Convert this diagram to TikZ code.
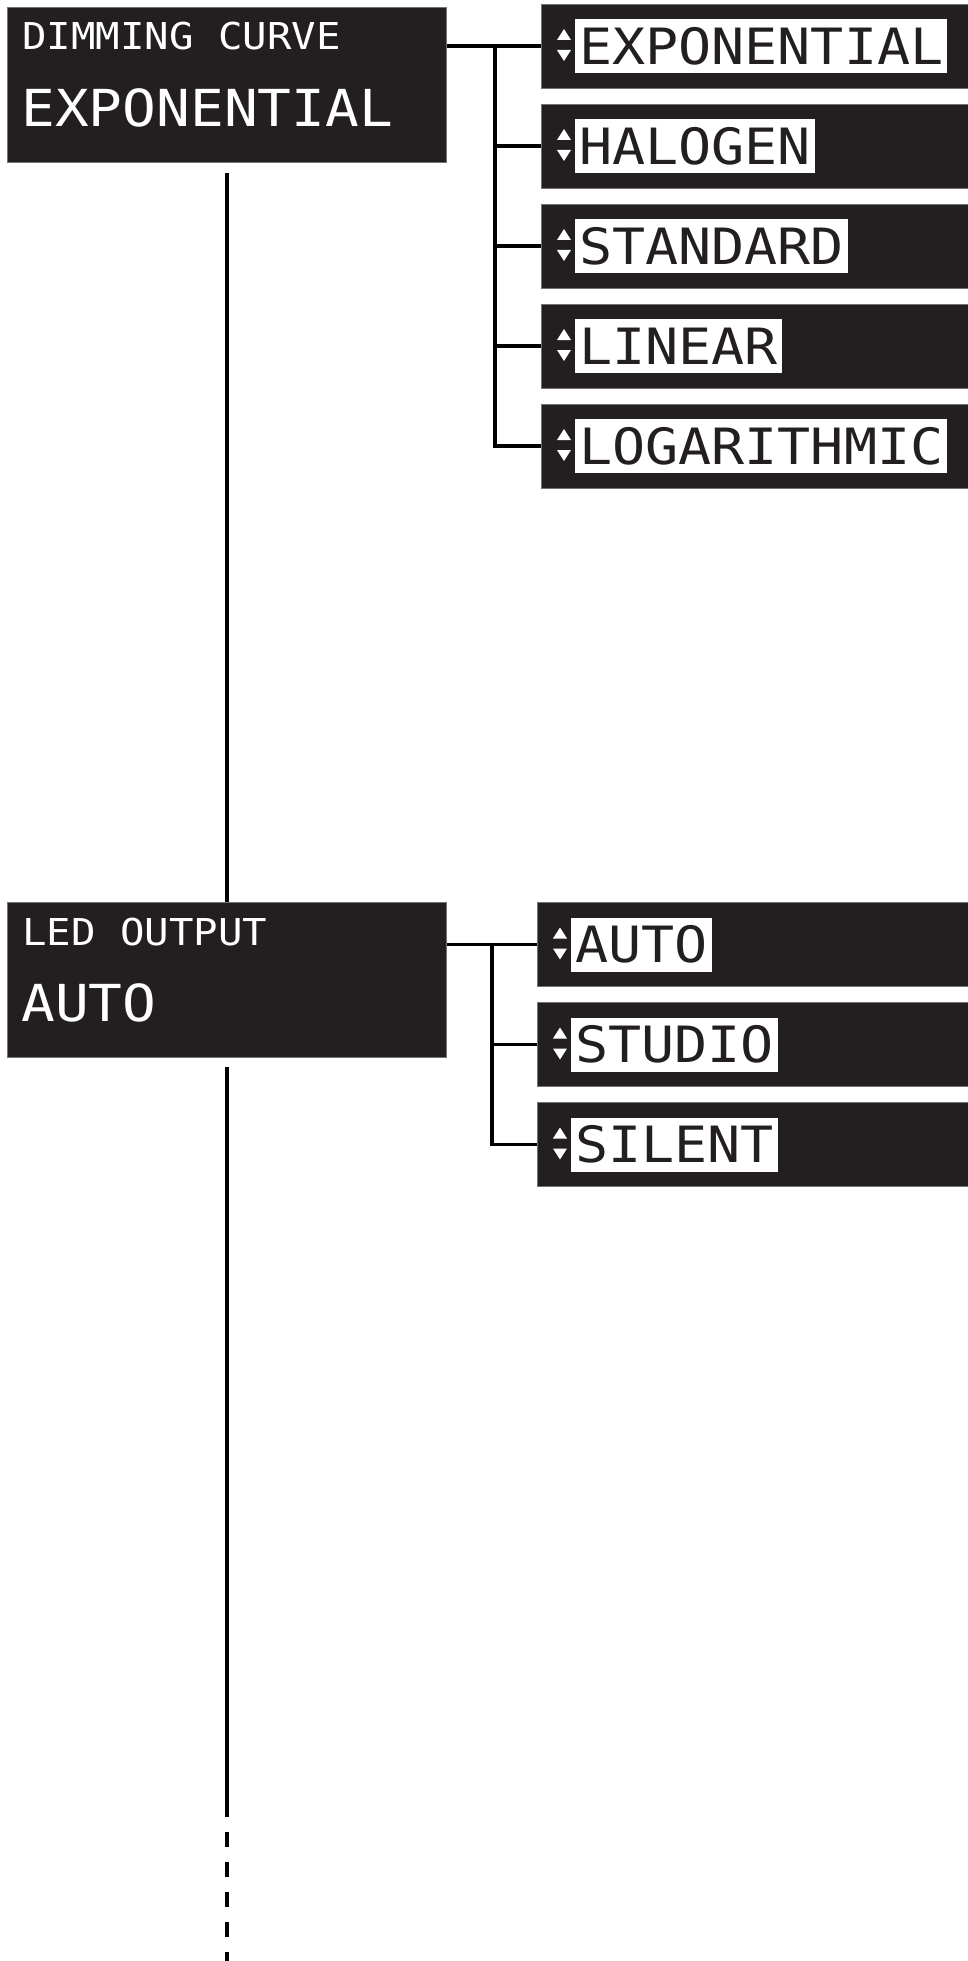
\documentclass[tikz,border=0pt]{standalone}
\usepackage{fontspec}
\newfontfamily\lcdfont[FakeStretch=1.1]{DejaVu Sans Mono}
\definecolor{panel}{HTML}{231F20}
\tikzset{
  link/.style={line width=3.2pt},
  menubox/.style={fill=panel, draw=black!55, line width=0.6pt, minimum width=439pt, minimum height=155pt, inner sep=0pt},
  optbox/.style={fill=panel, draw=black!55, line width=0.6pt, minimum width=432pt, minimum height=84pt, inner sep=0pt, anchor=west},
  optlabel/.style={fill=white, text=panel, inner xsep=4pt, inner ysep=0pt, minimum height=54pt, anchor=west, font=\lcdfont\fontsize{50pt}{50pt}\selectfont},
  menutitle/.style={text=white, inner sep=0pt, anchor=base west, font=\lcdfont\fontsize{37pt}{37pt}\selectfont},
  menuvalue/.style={text=white, inner sep=0pt, anchor=base west, font=\lcdfont\fontsize{51pt}{51pt}\selectfont}
}
\newcommand\updown[1]{%
  \fill[white] ([xshift=16pt,yshift=6pt]#1.west) -- ++(14,0) -- ++(-7,-11) -- cycle;
  \fill[white] ([xshift=16pt,yshift=-4pt]#1.west) -- ++(14,0) -- ++(-7,11) -- cycle;}
\begin{document}
\begin{tikzpicture}[x=1pt,y=-1pt]
\useasboundingbox (0,0) rectangle (968,1961);
\node[menubox] (dim) at (227,84.5) {};
\node[menutitle] (dimtitle) at ([xshift=15pt,yshift=-43pt]dim.north west) {DIMMING CURVE};
\node[menuvalue] (dimvalue) at ([xshift=14pt,yshift=-120pt]dim.north west) {EXPONENTIAL};
\node[optbox] (o1) at (541,46) {};
\node[optbox] (o2) at (541,146) {};
\node[optbox] (o3) at (541,246) {};
\node[optbox] (o4) at (541,346) {};
\node[optbox] (o5) at (541,446) {};
\node[optlabel] (o1t) at ([xshift=34pt]o1.west) {EXPONENTIAL};
\node[optlabel] (o2t) at ([xshift=34pt]o2.west) {HALOGEN};
\node[optlabel] (o3t) at ([xshift=34pt]o3.west) {STANDARD};
\node[optlabel] (o4t) at ([xshift=34pt]o4.west) {LINEAR};
\node[optlabel] (o5t) at ([xshift=34pt]o5.west) {LOGARITHMIC};
\updown{o1}\updown{o2}\updown{o3}\updown{o4}\updown{o5}
\coordinate (fork1) at (495,0);
\draw[link] (dim.east |- o1.west) -- (o1.west);
\draw[link] (fork1 |- o1.west) |- (o5.west);
\draw[link] (fork1 |- o2.west) -- (o2.west);
\draw[link] (fork1 |- o3.west) -- (o3.west);
\draw[link] (fork1 |- o4.west) -- (o4.west);
\node[menubox] (led) at (227,979.5) {};
\node[menutitle] (ledtitle) at ([xshift=15pt,yshift=-44pt]led.north west) {LED OUTPUT};
\node[menuvalue] (ledvalue) at ([xshift=14pt,yshift=-120pt]led.north west) {AUTO};
\node[optbox] (p1) at (537,944.5) {};
\node[optbox] (p2) at (537,1044.5) {};
\node[optbox] (p3) at (537,1144.5) {};
\node[optlabel] (p1t) at ([xshift=34pt]p1.west) {AUTO};
\node[optlabel] (p2t) at ([xshift=34pt]p2.west) {STUDIO};
\node[optlabel] (p3t) at ([xshift=34pt]p3.west) {SILENT};
\updown{p1}\updown{p2}\updown{p3}
\coordinate (fork2) at (492,0);
\draw[link] (led.east |- p1.west) -- (p1.west);
\draw[link] (fork2 |- p1.west) |- (p3.west);
\draw[link] (fork2 |- p2.west) -- (p2.west);
\draw[link] ([yshift=-11pt]dim.south) -- (led.north);
\coordinate (solidend) at (227,1817);
\coordinate (dashstart) at (227,1832);
\coordinate (pageend) at (227,1961);
\draw[link] ([yshift=-10pt]led.south) -- (solidend);
\draw[link, dash pattern=on 15pt off 15pt] (dashstart) -- (pageend);
\end{tikzpicture}
\end{document}
